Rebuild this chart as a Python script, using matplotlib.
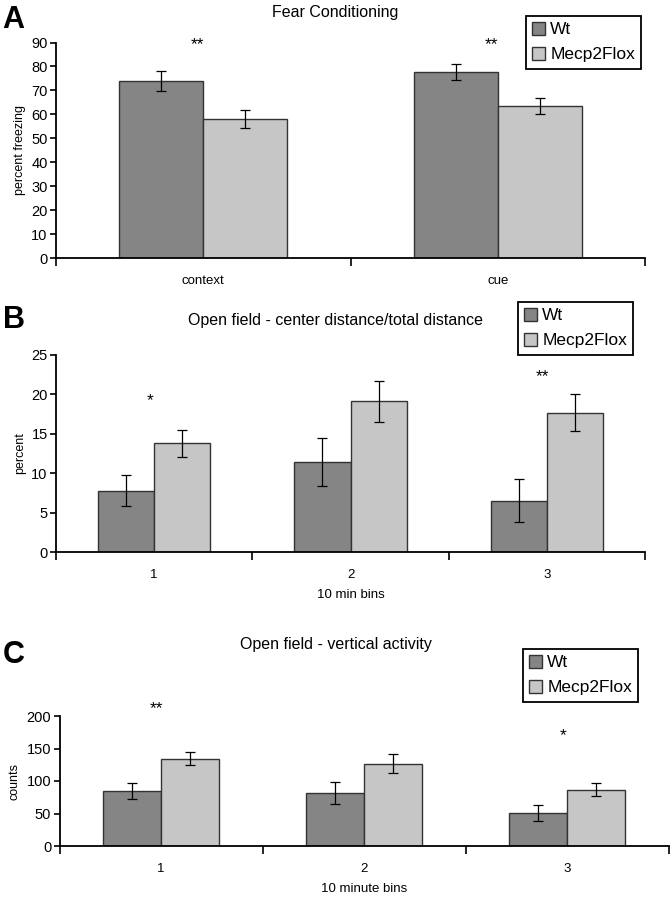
import numpy as np
import matplotlib
matplotlib.use("Agg")
import matplotlib.pyplot as plt

plt.rcParams['font.family'] = ['Liberation Sans', 'DejaVu Sans']

groups = ['Wt', 'Mecp2Flox']
colors = ['#858585', '#c6c6c6']

# A - fear conditioning
a_cats = ['context', 'cue']
a_wt = [73.9, 77.8]
a_wt_err = [4.1, 3.4]
a_mx = [58.1, 63.4]
a_mx_err = [3.8, 3.3]
a_stars = ['**', '**']
a_star_y = [89, 89]

# B - open field center/total distance
b_cats = ['1', '2', '3']
b_wt = [7.8, 11.4, 6.5]
b_wt_err = [1.95, 3.05, 2.75]
b_mx = [13.8, 19.1, 17.7]
b_mx_err = [1.7, 2.65, 2.4]
b_stars = ['*', '', '**']
b_star_y = [19.2, 0, 22.3]

# C - open field vertical activity
c_cats = ['1', '2', '3']
c_wt = [84.3, 82.0, 50.5]
c_wt_err = [12.3, 17.0, 12.0]
c_mx = [134.0, 126.5, 86.5]
c_mx_err = [10.0, 14.5, 10.0]
c_stars = ['**', '', '*']
c_star_y = [211, 0, 170]

fig = plt.figure(figsize=(6.71, 9.0), dpi=100)


def panel(rect, cats, wt, wt_err, mx, mx_err, ymax, ystep, ylabel, xlabel, title,
          stars, star_y, letter, letter_y, title_y, leg_xy):
    ax = fig.add_axes(rect)
    x = np.arange(len(cats))
    w = 0.286
    handles = []
    for off, vals, errs, col, lab in [(-w / 2, wt, wt_err, colors[0], groups[0]),
                                       (w / 2, mx, mx_err, colors[1], groups[1])]:
        h = ax.bar(x + off, vals, w, color=col, edgecolor='#333333', linewidth=1.0, label=lab)
        handles.append(h)
        ax.errorbar(x + off, vals, yerr=errs, fmt='none', ecolor='black',
                    elinewidth=0.9, capsize=3.5, capthick=0.9)
    ax.set_xlim(-0.5, len(cats) - 0.5)
    ax.set_ylim(0, ymax)
    ax.set_yticks(np.arange(0, ymax + 0.1, ystep))
    ax.set_xticks(np.arange(len(cats) + 1) - 0.5)
    ax.set_xticklabels([])
    ax.set_xticks(x, minor=True)
    ax.set_xticklabels(cats, minor=True)
    ax.tick_params(axis='x', which='major', length=6, width=1.2, direction='out')
    ax.tick_params(axis='x', which='minor', length=0, pad=12, labelsize=9.5)
    ax.tick_params(axis='y', length=4, width=1.2, direction='out', labelsize=10.5, pad=2)
    for s in ['top', 'right']:
        ax.spines[s].set_visible(False)
    for s in ['left', 'bottom']:
        ax.spines[s].set_linewidth(1.3)
    ax.set_ylabel(ylabel, fontsize=9, labelpad=4)
    if xlabel:
        ax.set_xlabel(xlabel, fontsize=9.5, labelpad=6)
    for xi, st, sy in zip(x, stars, star_y):
        if st:
            ax.text(xi - 0.02, sy, st, ha='center', va='center', fontsize=12.5, clip_on=False)
    fig.text(0.5, title_y, title, ha='center', va='center', fontsize=11.5)
    fig.text(0.004, letter_y, letter, ha='left', va='center', fontsize=22, fontweight='bold')
    leg = ax.legend(handles, groups, loc='upper left', bbox_to_anchor=leg_xy,
                    bbox_transform=fig.transFigure, fontsize=12.5,
                    frameon=True, fancybox=False, edgecolor='black', framealpha=1,
                    handlelength=0.75, handleheight=0.75, handletextpad=0.3,
                    labelspacing=0.55, borderpad=0.35, borderaxespad=0)
    leg.get_frame().set_linewidth(1.3)
    return ax


panel([56 / 671, 1 - 258 / 900, 589 / 671, 215.5 / 900], a_cats, a_wt, a_wt_err, a_mx, a_mx_err,
      90, 10, 'percent freezing', None, 'Fear Conditioning', a_stars, a_star_y,
      'A', 1 - 20 / 900, 1 - 12 / 900, (526 / 671, 1 - 16 / 900))

panel([56 / 671, 1 - 552 / 900, 589 / 671, 197 / 900], b_cats, b_wt, b_wt_err, b_mx, b_mx_err,
      25, 5, 'percent', '10 min bins', 'Open field - center distance/total distance', b_stars, b_star_y,
      'B', 1 - 320 / 900, 1 - 320 / 900, (518 / 671, 1 - 302 / 900))

panel([59.5 / 671, 1 - 846 / 900, 609 / 671, 130 / 900], c_cats, c_wt, c_wt_err, c_mx, c_mx_err,
      200, 50, 'counts', '10 minute bins', 'Open field - vertical activity', c_stars, c_star_y,
      'C', 1 - 655 / 900, 1 - 645 / 900, (523 / 671, 1 - 649 / 900))

fig.savefig('out.png', dpi=100)
